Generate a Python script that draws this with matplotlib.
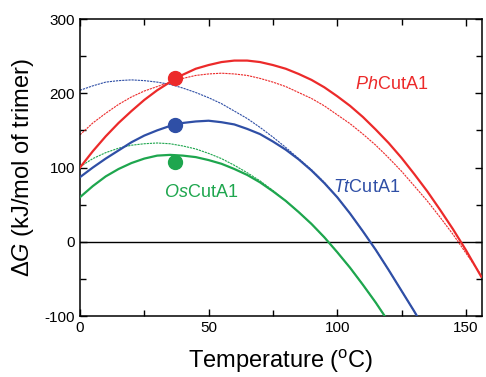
import matplotlib
matplotlib.use('Agg')
import matplotlib.pyplot as plt
from matplotlib.ticker import MultipleLocator

matplotlib.rcParams['font.family'] = 'Liberation Sans'
matplotlib.rcParams['mathtext.fontset'] = 'custom'
matplotlib.rcParams['mathtext.rm'] = 'Liberation Sans'
matplotlib.rcParams['mathtext.it'] = 'Liberation Sans:italic'
matplotlib.rcParams['axes.unicode_minus'] = False

RED = '#ec2a2a'
BLUE = '#2f4fa6'
GREEN = '#1ea64e'

# red (PhCutA1)
ph_t = [0, 5, 10, 15, 20, 25, 30, 35, 40, 45, 50, 55, 60, 65, 70, 75, 80, 85,
        90, 95, 100, 105, 110, 115, 120, 125, 130, 135, 140, 145, 150, 155, 156]
ph_fit = [100, 122, 142, 160, 176, 191, 204, 215, 225, 233, 238, 242, 244, 244,
          242, 238, 233, 226, 218, 208, 196, 183, 168, 151, 133, 113, 91, 68,
          43, 17, -11, -41, -47]
ph_dot = [144, 160, 173, 185, 195, 203, 209, 215, 220, 224, 226, 227, 226, 224,
          220, 215, 209, 201, 193, 183, 171, 159, 145, 130, 113, 95, 75, 55,
          33, 10, -15, -40, -46]

# blue (TtCutA1)
tt_t = [0, 5, 10, 15, 20, 25, 30, 35, 40, 45, 50, 55, 60, 65, 70, 75, 80, 85,
        90, 95, 100, 105, 110, 115, 120, 125, 130, 132]
tt_fit = [87, 100, 112, 123, 134, 143, 150, 156, 160, 162, 163, 161, 158, 152,
          145, 135, 124, 111, 96, 79, 60, 38, 14, -11, -38, -66, -94, -106]
tt_dot = [204, 210, 215, 217, 218, 217, 215, 212, 207, 201, 194, 186, 176, 166,
          154, 141, 127, 112, 97, 80, 60, 38, 14, -11, -38, -66, -94, -106]

# green (OsCutA1)
os_t = [0, 5, 10, 15, 20, 25, 30, 35, 40, 45, 50, 55, 60, 65, 70, 75, 80, 85,
        90, 95, 100, 105, 110, 115, 120]
os_fit = [60, 75, 88, 98, 106, 112, 116, 117, 116, 114, 110, 105, 98, 90, 80,
          68, 55, 40, 24, 6, -14, -35, -58, -82, -108]
os_dot = [101, 112, 120, 126, 130, 132, 133, 132, 129, 125, 119, 112, 103, 93,
          82, 69, 55, 40, 24, 6, -14, -35, -58, -82, -108]

# measured points
pt_t = [37, 37, 37]
pt_g = [220, 157, 107]
pt_colors = [RED, BLUE, GREEN]

fig = plt.figure(figsize=(4.86, 3.77), dpi=100)
ax = fig.add_axes([0.1646, 0.1618, 0.8272, 0.7878])

ax.axhline(0, color='black', lw=1.0, zorder=1)

for t, fit, dot, c in [(ph_t, ph_fit, ph_dot, RED),
                       (tt_t, tt_fit, tt_dot, BLUE),
                       (os_t, os_fit, os_dot, GREEN)]:
    ax.plot(t, dot, color=c, lw=0.8, ls=(0, (2, 0.8)), zorder=2)
    ax.plot(t, fit, color=c, lw=1.6, zorder=3)

for t, g, c in zip(pt_t, pt_g, pt_colors):
    ax.plot(t, g, 'o', color=c, ms=10, zorder=4)

ax.text(107, 212, r'$\mathit{Ph}$CutA1', color=RED, fontsize=13, va='center')
ax.text(98.5, 73, r'$\mathit{Tt}$CutA1', color=BLUE, fontsize=13, va='center')
ax.text(32.5, 66, r'$\mathit{Os}$CutA1', color=GREEN, fontsize=13, va='center')

ax.set_xlim(0, 156.3)
ax.set_ylim(-100, 300)
ax.xaxis.set_major_locator(MultipleLocator(50))
ax.xaxis.set_minor_locator(MultipleLocator(25))
ax.yaxis.set_major_locator(MultipleLocator(100))
ax.yaxis.set_minor_locator(MultipleLocator(50))
ax.tick_params(which='both', direction='in', top=True, right=True,
               width=1.0, labelsize=11)
ax.tick_params(which='major', length=5)
ax.tick_params(which='minor', length=4)
for s in ax.spines.values():
    s.set_linewidth(1.1)

ax.set_xlabel(r'Temperature ($^{\mathrm{o}}$C)', fontsize=17, labelpad=9)
ax.set_ylabel(r'$\Delta\mathit{G}$ (kJ/mol of trimer)', fontsize=17, labelpad=6)

fig.savefig('out.png', dpi=100)
